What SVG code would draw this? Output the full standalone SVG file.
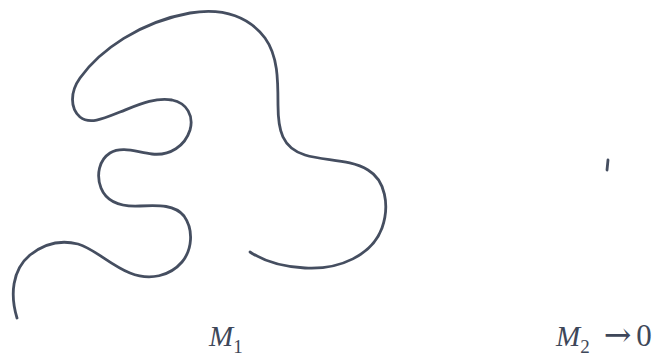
<svg xmlns="http://www.w3.org/2000/svg" width="661" height="356" viewBox="0 0 661 356">
<style>
.curve{fill:none;stroke:#454e60;stroke-width:2.8;stroke-linecap:round}
.lbl{font-family:"Liberation Serif","DejaVu Serif",serif;fill:#3e4759}
</style>
<rect width="661" height="356" fill="#ffffff"/>
<g id="manifold-m1">
<path class="curve" d="M17,318 C10,295 12,270 30,255 C45,243 62,240 78,244 C95,249 110,265 130,273 C150,281 170,276 182,262 C192,250 194,230 184,216 C175,205 160,205 140,206 C122,207 107,203 101,188 C96,175 99,160 110,153 C122,146 136,152 152,154 C170,156 185,146 190,130 C194,116 187,103 172,100 C155,97 138,105 120,112 C105,118 90,125 80,117 C70,108 70,92 80,78 C100,50 140,22 190,13 C225,7 250,18 265,38 C278,56 278,80 278,105 C278,130 282,148 305,155 C325,161 350,159 368,170 C385,180 390,205 382,228 C372,255 340,270 305,268 C285,267 265,262 250,252"/>
</g>
<g id="manifold-m2">
<path class="curve" d="M608,160 L607,170"/>
</g>
<g id="label-m1">
<text class="lbl" x="209" y="346" font-size="29"><tspan font-style="italic">M</tspan><tspan font-size="19" dy="7">1</tspan></text>
</g>
<g id="label-m2">
<text class="lbl" x="556" y="346" font-size="29"><tspan font-style="italic">M</tspan><tspan font-size="19" dy="7">2</tspan><tspan dy="-7" dx="14" font-family="DejaVu Serif" font-size="33">→</tspan><tspan dx="5" font-size="31">0</tspan></text>
</g>
</svg>
